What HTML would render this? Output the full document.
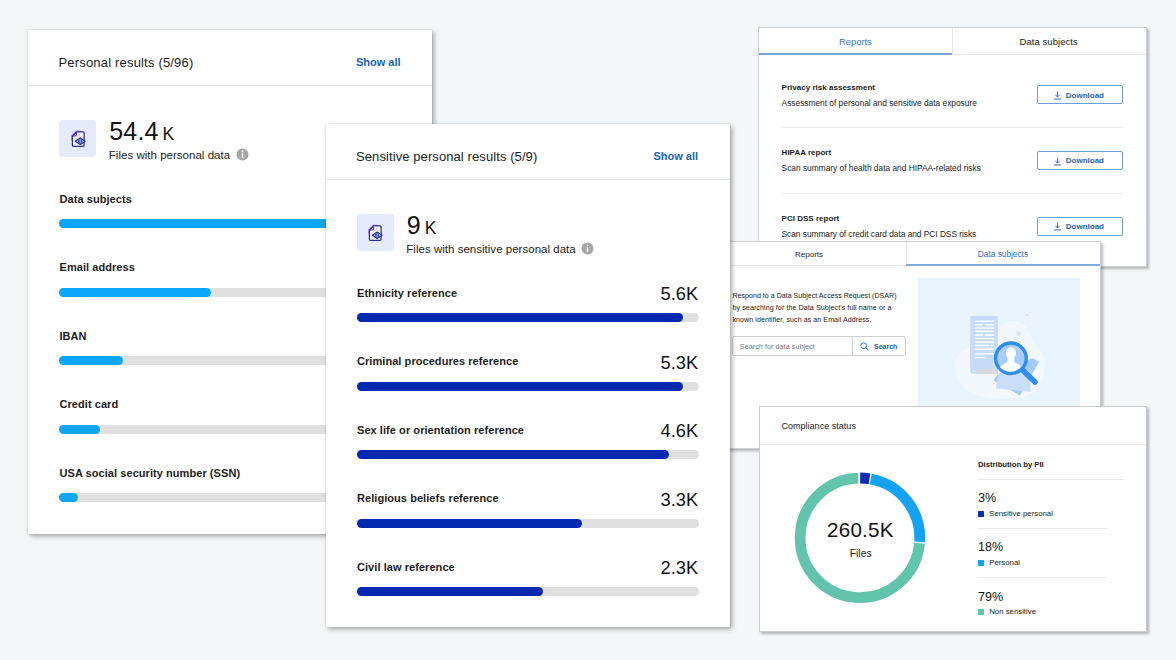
<!DOCTYPE html>
<html><head><meta charset="utf-8"><title>Dashboard</title>
<style>
html,body{margin:0;padding:0}
body{width:1176px;height:660px;overflow:hidden;background:#f4f6f8;font-family:"Liberation Sans",sans-serif;position:relative}
.card{position:absolute;background:#fff;overflow:hidden}
.t{position:absolute;line-height:1;white-space:nowrap}
.track{position:absolute;height:9.2px;border-radius:5px;background:#e0e0e0}
.fill{position:absolute;left:0;top:0;height:100%;border-radius:5px}
.sh{box-shadow:2px 2px 5px rgba(0,0,0,.34),0 0 1px rgba(0,0,0,.22)}
.sh3{box-shadow:1.5px 1.5px 2.5px rgba(0,0,0,.27)}
</style></head><body>

<div class="card sh" style="left:28px;top:30px;width:404px;height:503.5px">
<div class="t" style="left:30.50px;top:26.02px;font-size:13px;font-weight:400;color:#1c1c1c;letter-spacing:0.18px">Personal results (5/96)</div>
<div class="t" style="right:31.5px;top:27.02px;font-size:11px;font-weight:700;color:#1763b6;letter-spacing:0px">Show all</div>
<div style="position:absolute;left:0.00px;top:55.00px;width:404px;height:1px;background:#e2e4e6;"></div>
<div style="position:absolute;left:31.00px;top:90.00px;width:37px;height:37px;background:#e6ebfb;border-radius:3px"></div>
<svg style="position:absolute;left:41.80px;top:99.30px" width="18" height="20" viewBox="0 0 18 20">
<path d="M1.6 11 V6.6 L6 2.1 H10" fill="none" stroke="#c77df2" stroke-width="1.3" stroke-linejoin="round" stroke-linecap="round" opacity=".85"/>
<path d="M6.6 2.9 H13.1 Q14.1 2.9 14.1 3.9 V16.3 Q14.1 17.3 13.1 17.3 H3.4 Q2.4 17.3 2.4 16.3 V7.2 Z" fill="#f6f6fe" stroke="#2b2f92" stroke-width="1.25" stroke-linejoin="round"/>
<path d="M3 7 L6.5 3.4 V6 Q6.5 7 5.5 7 Z" fill="#dcb4f6" stroke="#3a2fa0" stroke-width=".9" stroke-linejoin="round"/>
<circle cx="9.4" cy="5.8" r=".9" fill="#eaa6ea"/>
<path d="M5.3 12.3 L10.2 9 L15.1 12.3 L10.2 15.6 Z" fill="#e4e9fb" stroke="#22288c" stroke-width="1.2" stroke-linejoin="round"/>
<circle cx="10.2" cy="12.3" r="1.9" fill="#4a62dc" stroke="#22288c" stroke-width=".6"/>
<path d="M10.2 10.6 V14" stroke="#cfd8fb" stroke-width=".7"/>
</svg>
<div class="t" style="left:81.30px;top:89.02px;font-size:25px;font-weight:400;color:#111;letter-spacing:0.15px">54.4</div>
<div class="t" style="left:134.40px;top:96.02px;font-size:17.5px;font-weight:400;color:#111;letter-spacing:0px">K</div>
<div class="t" style="left:80.80px;top:120.02px;font-size:11.5px;font-weight:400;color:#222;letter-spacing:0.02px">Files with personal data</div>
<svg style="position:absolute;left:207.80px;top:118.10px" width="13" height="13" viewBox="0 0 13 13"><circle cx="6.5" cy="6.5" r="6" fill="#a6a6a6"/><rect x="5.7" y="5.4" width="1.6" height="4.4" fill="#fff"/><circle cx="6.5" cy="3.6" r="1" fill="#fff"/></svg>
<div class="t" style="left:31.50px;top:164.02px;font-size:11px;font-weight:700;color:#1c1c1c;letter-spacing:0.06px">Data subjects</div>
<div class="track" style="left:31.1px;top:189.30px;width:342px"><div class="fill" style="width:342px;background:#0ba6f7"></div></div>
<div class="t" style="left:31.50px;top:232.02px;font-size:11px;font-weight:700;color:#1c1c1c;letter-spacing:0.06px">Email address</div>
<div class="track" style="left:31.1px;top:257.80px;width:342px"><div class="fill" style="width:152.2px;background:#0ba6f7"></div></div>
<div class="t" style="left:31.50px;top:301.02px;font-size:11px;font-weight:700;color:#1c1c1c;letter-spacing:0.06px">IBAN</div>
<div class="track" style="left:31.1px;top:326.30px;width:342px"><div class="fill" style="width:63.5px;background:#0ba6f7"></div></div>
<div class="t" style="left:31.50px;top:369.02px;font-size:11px;font-weight:700;color:#1c1c1c;letter-spacing:0.06px">Credit card</div>
<div class="track" style="left:31.1px;top:394.80px;width:342px"><div class="fill" style="width:40.7px;background:#0ba6f7"></div></div>
<div class="t" style="left:31.50px;top:438.02px;font-size:11px;font-weight:700;color:#1c1c1c;letter-spacing:0.06px">USA social security number (SSN)</div>
<div class="track" style="left:31.1px;top:463.30px;width:342px"><div class="fill" style="width:19.2px;background:#0ba6f7"></div></div>
</div>
<div class="card sh3" style="left:757.9px;top:26.8px;width:389.1px;height:239.8px;border:1px solid #cfd3d7;box-sizing:border-box">
<div style="position:absolute;left:0.00px;top:26.20px;width:387.1px;height:1px;background:#e3e5e8;"></div>
<div style="position:absolute;left:193.40px;top:0.00px;width:1px;height:27px;background:#e6e8ea;"></div>
<div style="position:absolute;left:0.00px;top:25.00px;width:193.39999999999998px;height:2.2px;background:#7fa3cc;"></div>
<div class="t" style="left:80.10px;top:9.22px;font-size:9.4px;font-weight:400;color:#3478c0;letter-spacing:0px">Reports</div>
<div class="t" style="left:260.70px;top:9.22px;font-size:9.5px;font-weight:400;color:#222;letter-spacing:0.05px">Data subjects</div>
<div class="t" style="left:22.70px;top:56.22px;font-size:8px;font-weight:700;color:#1a1a1a;letter-spacing:0.02px">Privacy risk assessment</div>
<div class="t" style="left:22.70px;top:71.22px;font-size:8.35px;font-weight:400;color:#222;letter-spacing:0px">Assessment of personal and sensitive data exposure</div>
<div style="position:absolute;left:278.1px;top:57.7px;width:86px;height:18.6px;box-sizing:border-box;border:1px solid #6c9ed6;border-radius:2px;background:#fff"><svg style="position:absolute;left:14.9px;top:4.3px" width="9" height="9" viewBox="0 0 9 9"><path d="M4.5 .6 V5.8 M2.4 3.9 L4.5 6 L6.6 3.9" fill="none" stroke="#2a6fc0" stroke-width="1"/><path d="M1 8 H8" stroke="#2a6fc0" stroke-width="1"/></svg>
<div class="t" style="left:27.80px;top:5.52px;font-size:8px;font-weight:700;color:#1f62b0;letter-spacing:0px">Download</div>
</div>
<div style="position:absolute;left:22.70px;top:99.20px;width:341.5px;height:1px;background:#ececec;"></div>
<div class="t" style="left:22.70px;top:121.22px;font-size:8px;font-weight:700;color:#1a1a1a;letter-spacing:0.02px">HIPAA report</div>
<div class="t" style="left:22.70px;top:136.22px;font-size:8.35px;font-weight:400;color:#222;letter-spacing:0px">Scan summary of health data and HIPAA-related risks</div>
<div style="position:absolute;left:278.1px;top:123.45px;width:86px;height:18.6px;box-sizing:border-box;border:1px solid #6c9ed6;border-radius:2px;background:#fff"><svg style="position:absolute;left:14.9px;top:4.3px" width="9" height="9" viewBox="0 0 9 9"><path d="M4.5 .6 V5.8 M2.4 3.9 L4.5 6 L6.6 3.9" fill="none" stroke="#2a6fc0" stroke-width="1"/><path d="M1 8 H8" stroke="#2a6fc0" stroke-width="1"/></svg>
<div class="t" style="left:27.80px;top:4.77px;font-size:8px;font-weight:700;color:#1f62b0;letter-spacing:0px">Download</div>
</div>
<div style="position:absolute;left:22.70px;top:164.95px;width:341.5px;height:1px;background:#ececec;"></div>
<div class="t" style="left:22.70px;top:187.22px;font-size:8px;font-weight:700;color:#1a1a1a;letter-spacing:0.02px">PCI DSS report</div>
<div class="t" style="left:22.70px;top:202.22px;font-size:8.35px;font-weight:400;color:#222;letter-spacing:-0.03px">Scan summary of credit card data and PCI DSS risks</div>
<div style="position:absolute;left:278.1px;top:189.29999999999998px;width:86px;height:18.6px;box-sizing:border-box;border:1px solid #6c9ed6;border-radius:2px;background:#fff"><svg style="position:absolute;left:14.9px;top:4.3px" width="9" height="9" viewBox="0 0 9 9"><path d="M4.5 .6 V5.8 M2.4 3.9 L4.5 6 L6.6 3.9" fill="none" stroke="#2a6fc0" stroke-width="1"/><path d="M1 8 H8" stroke="#2a6fc0" stroke-width="1"/></svg>
<div class="t" style="left:27.80px;top:4.92px;font-size:8px;font-weight:700;color:#1f62b0;letter-spacing:0px">Download</div>
</div>
</div>
<div class="card sh3" style="left:700px;top:241px;width:401.2px;height:208px;border:1px solid #cfd3d7;box-sizing:border-box">
<div style="position:absolute;left:0.00px;top:23.00px;width:399.2px;height:1px;background:#e3e5e8;"></div>
<div style="position:absolute;left:204.50px;top:0.00px;width:1px;height:23px;background:#e6e8ea;"></div>
<div style="position:absolute;left:204.50px;top:22.10px;width:194.7px;height:1.8px;background:#80abdd;"></div>
<div class="t" style="left:94.00px;top:9.02px;font-size:8px;font-weight:400;color:#222;letter-spacing:0px">Reports</div>
<div class="t" style="left:276.80px;top:8.02px;font-size:8.3px;font-weight:400;color:#2a70c0;letter-spacing:0px">Data subjects</div>
<div class="t" style="left:31.50px;top:51.02px;font-size:7.1px;font-weight:400;color:#222;letter-spacing:0px">Respond to a Data Subject Access Request (DSAR)</div>
<div class="t" style="left:31.50px;top:63.02px;font-size:7.1px;font-weight:400;color:#222;letter-spacing:0.085px">by searching for the Data Subject's full name or a</div>
<div class="t" style="left:31.50px;top:75.02px;font-size:7.1px;font-weight:400;color:#222;letter-spacing:0.06px">known identifier, such as an Email Address.</div>
<div style="position:absolute;left:31px;top:94px;width:173.5px;height:19.5px;box-sizing:border-box;border:1px solid #cfcfcf;border-radius:2px;background:#fff"><div style="position:absolute;left:118.5px;top:0;width:1px;height:100%;background:#cfcfcf"></div><svg style="position:absolute;left:127px;top:4.5px" width="9" height="9" viewBox="0 0 9 9"><circle cx="3.7" cy="3.7" r="2.9" fill="none" stroke="#2a7bd0" stroke-width="1"/><path d="M5.9 5.9 L8.3 8.3" stroke="#2a7bd0" stroke-width="1.1"/></svg>
<div class="t" style="left:6.80px;top:6.02px;font-size:7.3px;font-weight:400;color:#7c7c7c;letter-spacing:0px">Search for data subject</div>
<div class="t" style="left:141.00px;top:6.02px;font-size:7px;font-weight:700;color:#1f62b0;letter-spacing:0px">Search</div>
</div>
<div style="position:absolute;left:216.5px;top:35.5px;width:162.5px;height:140px;background:#eaf4fe;overflow:hidden"><svg style="position:absolute;left:0;top:0" width="162.5" height="140" viewBox="0 0 162.5 140"><g transform="translate(27.5,22.5) scale(0.16667)">
<path d="M60 400 C50 300 150 250 300 250 C300 150 380 100 440 130 C520 170 500 230 560 290 C620 360 600 470 540 540 C470 610 250 600 150 550 C90 520 65 470 60 400 Z" fill="#f3f8fe"/>
<path d="M520 345 L562 368 L447 570 L288 480 L310 445 Z" fill="#a6c9f1"/>
<path d="M318 442 L505 418 L512 548 L302 526 Z" fill="#c9dff8"/>
<path d="M148 95 L160 92 L172 95 L184 92 L196 95 L208 92 L220 95 L232 92 L244 95 L256 92 L268 95 L280 92 L292 95 L304 92 L315 95 V440 H170 Q148 440 148 418 Z" fill="#c6dcf7"/>
<path d="M185 410 H315 V440 H200 Q185 440 185 425 Z" fill="#d6dade"/>
<g stroke="#fff" stroke-width="9" opacity=".92">
<path d="M178 125 H290"/><path d="M178 145 H225 M235 145 H290"/><path d="M178 165 H290"/><path d="M178 185 H290"/><path d="M178 207 H225 M235 207 H290"/><path d="M178 228 H290"/><path d="M178 250 H290"/><path d="M178 270 H262 M270 270 H290"/><path d="M178 292 H290"/><path d="M178 320 H290"/><path d="M178 342 H235"/>
</g>
<circle cx="440" cy="200" r="14" fill="#dbe2ec"/><circle cx="488" cy="88" r="6" fill="#d5e0ee"/>
<path d="M462 417 L537 489" stroke="#2f8ee9" stroke-width="33" stroke-linecap="round"/>
<circle cx="392.5" cy="347" r="92" fill="#a9cdf6" stroke="#2f8ee9" stroke-width="20"/>
<clipPath id="mc"><circle cx="392.5" cy="347" r="82"/></clipPath>
<g clip-path="url(#mc)" fill="#fff" transform="translate(-5.5,-3)"><ellipse cx="398" cy="318" rx="31" ry="34"/><path d="M378 340 H418 V370 C430 384 464 386 468 415 V450 H328 V415 C332 386 366 384 378 370 Z"/></g>
</g></svg>
</div>
</div>
<div class="card sh" style="left:325.5px;top:123.5px;width:404px;height:503.5px">
<div class="t" style="left:30.50px;top:26.52px;font-size:13px;font-weight:400;color:#1c1c1c;letter-spacing:0.09px">Sensitive personal results (5/9)</div>
<div class="t" style="right:31.5px;top:27.52px;font-size:11px;font-weight:700;color:#1763b6;letter-spacing:0px">Show all</div>
<div style="position:absolute;left:0.00px;top:55.00px;width:404px;height:1px;background:#e2e4e6;"></div>
<div style="position:absolute;left:31.00px;top:90.00px;width:37px;height:37px;background:#e6ebfb;border-radius:3px"></div>
<svg style="position:absolute;left:41.80px;top:99.30px" width="18" height="20" viewBox="0 0 18 20">
<path d="M1.6 11 V6.6 L6 2.1 H10" fill="none" stroke="#c77df2" stroke-width="1.3" stroke-linejoin="round" stroke-linecap="round" opacity=".85"/>
<path d="M6.6 2.9 H13.1 Q14.1 2.9 14.1 3.9 V16.3 Q14.1 17.3 13.1 17.3 H3.4 Q2.4 17.3 2.4 16.3 V7.2 Z" fill="#f6f6fe" stroke="#2b2f92" stroke-width="1.25" stroke-linejoin="round"/>
<path d="M3 7 L6.5 3.4 V6 Q6.5 7 5.5 7 Z" fill="#dcb4f6" stroke="#3a2fa0" stroke-width=".9" stroke-linejoin="round"/>
<circle cx="9.4" cy="5.8" r=".9" fill="#eaa6ea"/>
<path d="M5.3 12.3 L10.2 9 L15.1 12.3 L10.2 15.6 Z" fill="#e4e9fb" stroke="#22288c" stroke-width="1.2" stroke-linejoin="round"/>
<circle cx="10.2" cy="12.3" r="1.9" fill="#4a62dc" stroke="#22288c" stroke-width=".6"/>
<path d="M10.2 10.6 V14" stroke="#cfd8fb" stroke-width=".7"/>
</svg>
<div class="t" style="left:81.30px;top:89.52px;font-size:25px;font-weight:400;color:#111;letter-spacing:0.15px">9</div>
<div class="t" style="left:99.20px;top:96.52px;font-size:17.5px;font-weight:400;color:#111;letter-spacing:0px">K</div>
<div class="t" style="left:80.80px;top:120.52px;font-size:11.5px;font-weight:400;color:#222;letter-spacing:0.02px">Files with sensitive personal data</div>
<svg style="position:absolute;left:255.90px;top:118.10px" width="13" height="13" viewBox="0 0 13 13"><circle cx="6.5" cy="6.5" r="6" fill="#a6a6a6"/><rect x="5.7" y="5.4" width="1.6" height="4.4" fill="#fff"/><circle cx="6.5" cy="3.6" r="1" fill="#fff"/></svg>
<div class="t" style="left:31.50px;top:164.52px;font-size:11px;font-weight:700;color:#1c1c1c;letter-spacing:0.06px">Ethnicity reference</div>
<div class="t" style="right:31.3px;top:161.52px;font-size:18.3px;font-weight:400;color:#111;letter-spacing:0px">5.6K</div>
<div class="track" style="left:31.1px;top:189.70px;width:342px"><div class="fill" style="width:326px;background:#0329b1"></div></div>
<div class="t" style="left:31.50px;top:232.52px;font-size:11px;font-weight:700;color:#1c1c1c;letter-spacing:0.06px">Criminal procedures reference</div>
<div class="t" style="right:31.3px;top:230.02px;font-size:18.3px;font-weight:400;color:#111;letter-spacing:0px">5.3K</div>
<div class="track" style="left:31.1px;top:258.20px;width:342px"><div class="fill" style="width:326px;background:#0329b1"></div></div>
<div class="t" style="left:31.50px;top:301.52px;font-size:11px;font-weight:700;color:#1c1c1c;letter-spacing:0.06px">Sex life or orientation reference</div>
<div class="t" style="right:31.3px;top:298.52px;font-size:18.3px;font-weight:400;color:#111;letter-spacing:0px">4.6K</div>
<div class="track" style="left:31.1px;top:326.70px;width:342px"><div class="fill" style="width:312px;background:#0329b1"></div></div>
<div class="t" style="left:31.50px;top:369.52px;font-size:11px;font-weight:700;color:#1c1c1c;letter-spacing:0.06px">Religious beliefs reference</div>
<div class="t" style="right:31.3px;top:367.02px;font-size:18.3px;font-weight:400;color:#111;letter-spacing:0px">3.3K</div>
<div class="track" style="left:31.1px;top:395.20px;width:342px"><div class="fill" style="width:225px;background:#0329b1"></div></div>
<div class="t" style="left:31.50px;top:438.52px;font-size:11px;font-weight:700;color:#1c1c1c;letter-spacing:0.06px">Civil law reference</div>
<div class="t" style="right:31.3px;top:435.52px;font-size:18.3px;font-weight:400;color:#111;letter-spacing:0px">2.3K</div>
<div class="track" style="left:31.1px;top:463.70px;width:342px"><div class="fill" style="width:186px;background:#0329b1"></div></div>
</div>
<div class="card sh3" style="left:758.8px;top:405.5px;width:388.4px;height:226.5px;border:1px solid #c9cdd1;box-sizing:border-box">
<div class="t" style="left:21.60px;top:15.52px;font-size:9px;font-weight:400;color:#222;letter-spacing:0.03px">Compliance status</div>
<div style="position:absolute;left:0.00px;top:37.50px;width:386.4px;height:1px;background:#e6e8ea;"></div>
<svg style="position:absolute;left:0;top:0" width="386.4" height="224.5"><path d="M100.16 71.00 A59.8 59.8 0 0 1 109.51 71.77" fill="none" stroke="#0d2db0" stroke-width="10.8"/><path d="M110.75 71.98 A59.8 59.8 0 0 1 159.60 134.97" fill="none" stroke="#14a2f4" stroke-width="10.8"/><path d="M159.50 136.22 A59.8 59.8 0 1 1 98.18 71.03" fill="none" stroke="#62c4aa" stroke-width="10.8"/></svg>
<div class="t" style="left:67.20px;top:113.52px;font-size:20.6px;font-weight:400;color:#111;letter-spacing:0.25px">260.5K</div>
<div class="t" style="left:90.00px;top:142.52px;font-size:10.3px;font-weight:400;color:#222;letter-spacing:0px">Files</div>
<div class="t" style="left:218.20px;top:54.52px;font-size:7.7px;font-weight:700;color:#1a1a1a;letter-spacing:0px">Distribution by PII</div>
<div style="position:absolute;left:218.20px;top:72.50px;width:146.5px;height:1px;background:#e8e8e8;"></div>
<div class="t" style="left:218.20px;top:85.52px;font-size:12.5px;font-weight:400;color:#111;letter-spacing:0px">3%</div>
<div style="position:absolute;left:218.20px;top:104.20px;width:6.5px;height:6px;background:#0d2db0;"></div>
<div class="t" style="left:229.40px;top:103.52px;font-size:7.8px;font-weight:400;color:#222;letter-spacing:0px">Sensitive personal</div>
<div style="position:absolute;left:218.20px;top:121.10px;width:129px;height:1px;background:#e8e8e8;"></div>
<div class="t" style="left:218.20px;top:134.52px;font-size:12.5px;font-weight:400;color:#111;letter-spacing:0px">18%</div>
<div style="position:absolute;left:218.20px;top:153.10px;width:6.5px;height:6px;background:#14a2f4;"></div>
<div class="t" style="left:229.40px;top:152.52px;font-size:7.8px;font-weight:400;color:#222;letter-spacing:0px">Personal</div>
<div style="position:absolute;left:218.20px;top:170.70px;width:129px;height:1px;background:#e8e8e8;"></div>
<div class="t" style="left:218.20px;top:184.52px;font-size:12.5px;font-weight:400;color:#111;letter-spacing:0px">79%</div>
<div style="position:absolute;left:218.20px;top:202.30px;width:6.5px;height:6px;background:#62c4aa;"></div>
<div class="t" style="left:229.40px;top:201.52px;font-size:7.8px;font-weight:400;color:#222;letter-spacing:0px">Non sensitive</div>
</div>
</body></html>
